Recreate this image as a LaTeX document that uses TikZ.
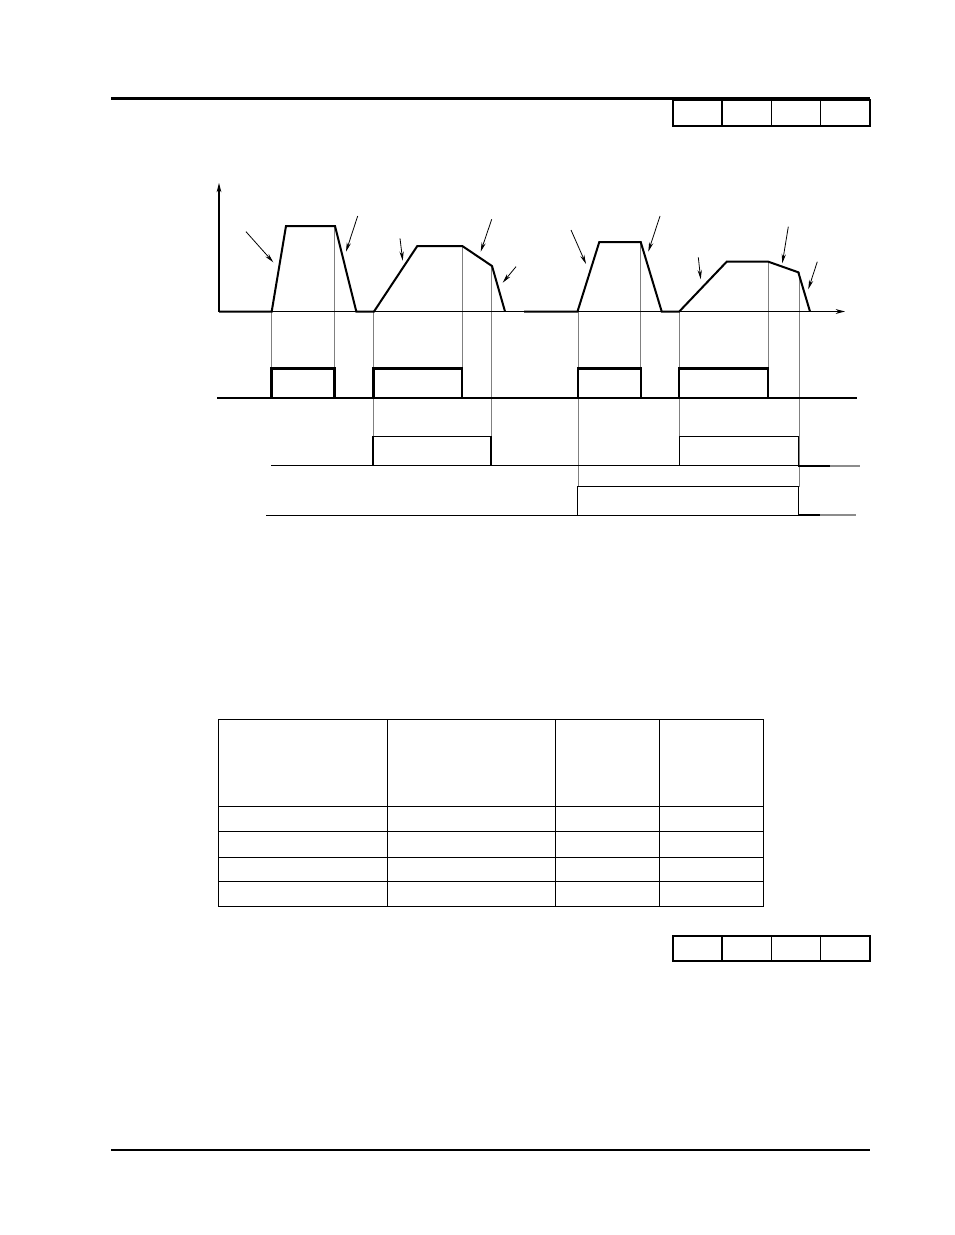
\documentclass[tikz,border=0pt]{standalone}
\usetikzlibrary{arrows.meta}
\begin{document}
\begin{tikzpicture}[x=0.75pt,y=-0.75pt,
  thinline/.style={line width=0.8pt,black},
  rule/.style={line width=1pt,black},
  curve/.style={line width=1.5pt,black,line join=miter},
  sig/.style={line width=1.6pt,black,line join=miter},
  guide/.style={line width=0.7pt,black!50},
  callout/.style={line width=0.6pt,black,-{Stealth[length=7pt,width=3.2pt]}},
  axis/.style={line width=0.8pt,black,-{Stealth[length=7pt,width=3.6pt]}}]
\useasboundingbox (0,0) rectangle (954,1235);

% header / footer rules and boxes
\draw[line width=2.4pt] (111,98.5) -- (870,98.5);
\draw[rule] (673,100) rectangle (870,126);
\foreach \x in {722,771.5,820.5} \draw[rule] (\x,100) -- (\x,126);
\draw[rule] (673,936) rectangle (870,961);
\foreach \x in {722,771.5,820.5} \draw[rule] (\x,936) -- (\x,961);
\draw[line width=1pt] (111,1150) -- (870,1150);

% guide lines
\foreach \x/\a/\b in {271.5/311.5/368.5, 334.5/226/368.5, 373.5/311.5/436.7, 462.3/246/368.5, 491.5/266/436.7,
  578/311.5/486.7, 640.7/242/368.5, 679.3/311.5/436.7, 768.3/261.7/368.5, 799/272.3/486.7}
  \draw[guide] (\x,\a) -- (\x,\b);

% axes
\coordinate (O) at (219,311.5);
\coordinate (Ytop) at (219,183);
\coordinate (Xend) at (845,311.5);
\draw[axis] (O) -- (Ytop);
\draw[axis] (O) -- (Xend);

% speed curves
\draw[curve] (219,311.5) -- (271.7,311.5) -- (286,226) -- (335,226) -- (356.3,311.5) -- (374,311.5)
  -- (417.3,246) -- (462.3,246) -- (492,266) -- (505,311.5);
\draw[curve] (524,311.5) -- (577.5,311.5) -- (599.3,242) -- (640.7,242) -- (661.7,311.5) -- (679.3,311.5)
  -- (726.7,261.7) -- (768.3,261.7) -- (798.3,272.3) -- (810,311.5);

% callout arrows
\coordinate (a1s) at (246,231.7);   \coordinate (a1e) at (273.3,262.3);
\coordinate (a2s) at (357.7,216);   \coordinate (a2e) at (346,251.7);
\coordinate (a3s) at (400,238.3);   \coordinate (a3e) at (402.7,260.7);
\coordinate (a4s) at (491.7,219.3); \coordinate (a4e) at (480.7,251.7);
\coordinate (a5s) at (516,266.7);   \coordinate (a5e) at (502.7,282.7);
\coordinate (a6s) at (571,230);     \coordinate (a6e) at (586,264);
\coordinate (a7s) at (660,216);     \coordinate (a7e) at (648.3,251.7);
\coordinate (a8s) at (698.3,257.3); \coordinate (a8e) at (700.7,279.3);
\coordinate (a9s) at (788.3,226.7); \coordinate (a9e) at (782.3,263.3);
\coordinate (a10s) at (817.3,261.7);\coordinate (a10e) at (808.3,289.3);
\foreach \i in {1,...,10} \draw[callout] (a\i s) -- (a\i e);

% row 1 signal
\draw[thinline] (217,398) -- (857,398);
\draw[sig] (217,398) -- (271.5,398) -- (271.5,368.5) -- (334.5,368.5) -- (334.5,398) -- (373.5,398)
  -- (373.5,368.5) -- (462.3,368.5) -- (462.3,398) -- (577.7,398) -- (577.7,368.5) -- (640.7,368.5)
  -- (640.7,398) -- (679.3,398) -- (679.3,368.5) -- (768.3,368.5) -- (768.3,398) -- (857,398);

% row 2 signal
\draw[thinline] (271,465.3) -- (798.3,465.3);
\draw[line width=1pt] (798.3,466) -- (830,466);
\draw[line width=1pt,black!45] (830,466) -- (860,466);
\draw[thinline] (373,465.3) -- (373,436.7) -- (491,436.7) -- (491,465.3);
\draw[line width=1.6pt] (373,465.3) -- (373,436.7);
\draw[thinline] (679.3,465.3) -- (679.3,436.7) -- (798.3,436.7) -- (798.3,465.3);

% row 3 signal
\draw[thinline] (266,515.3) -- (798.3,515.3);
\draw[line width=1pt] (798.3,515) -- (820,515);
\draw[line width=1pt,black!45] (820,515) -- (856,515);
\draw[thinline] (577.7,515.3) -- (577.7,486.7) -- (798.3,486.7) -- (798.3,515.3);

% table
\draw[rule] (218.3,719.3) rectangle (763.3,906.3);
\foreach \x in {387.3,555.3,659.3} \draw[rule] (\x,719.3) -- (\x,906.3);
\foreach \y in {806.3,831.3,857.3,881.3} \draw[rule] (218.3,\y) -- (763.3,\y);
\end{tikzpicture}
\end{document}
